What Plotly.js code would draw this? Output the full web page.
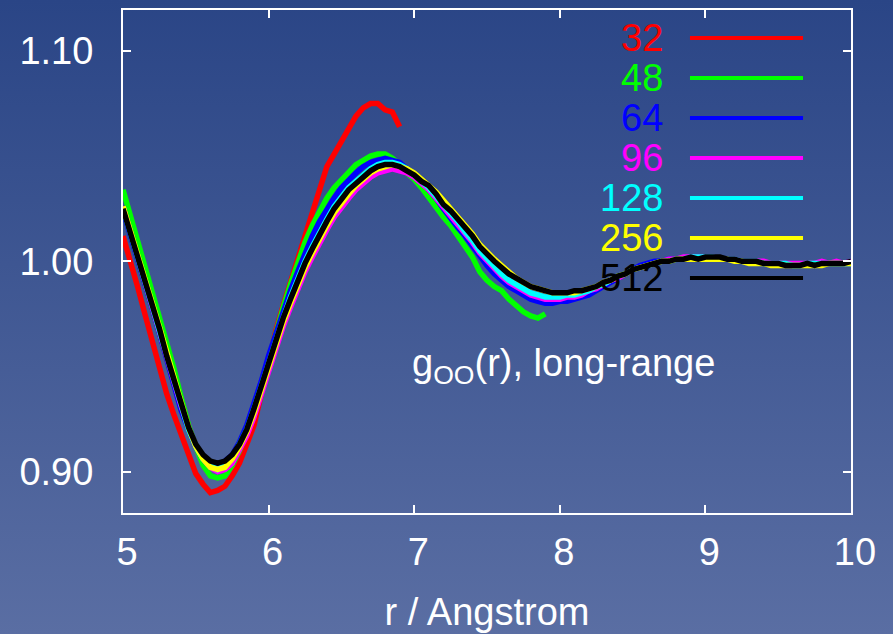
<!DOCTYPE html>
<html>
<head>
<meta charset="utf-8">
<script src="https://cdn.plot.ly/plotly-3.0.1.min.js"></script>
<style>
html, body { margin: 0; padding: 0; }
body { width: 893px; height: 634px; background: linear-gradient(to bottom, #2a4586 0%, #5a6ea3 100%); overflow: hidden; }
#chart { width: 893px; height: 634px; }
</style>
</head>
<body>
<div id="chart"></div>
<script>
// r grid (Angstrom)
const r = [5.00,5.05,5.10,5.15,5.20,5.25,5.30,5.35,5.40,5.45,5.50,5.55,5.60,5.65,5.70,5.75,5.80,5.85,5.90,5.95,
6.00,6.05,6.10,6.15,6.20,6.25,6.30,6.35,6.40,6.45,6.50,6.55,6.60,6.65,6.70,6.75,6.80,6.85,6.90,6.95,
7.00,7.05,7.10,7.15,7.20,7.25,7.30,7.35,7.40,7.45,7.50,7.55,7.60,7.65,7.70,7.75,7.80,7.85,7.90,7.95,
8.00,8.05,8.10,8.15,8.20,8.25,8.30,8.35,8.40,8.45,8.50,8.55,8.60,8.65,8.70,8.75,8.80,8.85,8.90,8.95,
9.00,9.05,9.10,9.15,9.20,9.25,9.30,9.35,9.40,9.45,9.50,9.55,9.60,9.65,9.70,9.75,9.80,9.85,9.90,9.95,10.00];

const labels = ["32","48","64","96","128","256","512"];
const colors = ["#ff0000","#00ff00","#0000ff","#ff00ff","#00ffff","#ffff00","#000000"];

const g32 = [1.012,1.001,0.988,0.975,0.962,0.949,0.937,0.927,0.918,0.908,0.899,0.894,0.890,0.891,0.893,0.898,0.904,0.913,0.922,0.937,
0.953,0.967,0.979,0.990,1.001,1.013,1.025,1.036,1.045,1.051,1.057,1.063,1.069,1.073,1.075,1.075,1.072,1.071,1.064];

const g48 = [1.034,1.022,1.010,0.999,0.987,0.975,0.962,0.949,0.935,0.922,0.912,0.903,0.898,0.897,0.898,0.903,0.910,0.919,0.929,0.941,
0.954,0.966,0.978,0.989,0.999,1.009,1.017,1.024,1.030,1.035,1.039,1.043,1.046,1.048,1.050,1.051,1.051,1.049,1.046,1.042,
1.039,1.035,1.030,1.025,1.021,1.017,1.012,1.008,1.002,0.995,0.991,0.988,0.986,0.982,0.979,0.976,0.974,0.973,0.975];

const g64 = [1.024,1.013,1.002,0.990,0.978,0.966,0.953,0.941,0.929,0.920,0.912,0.907,0.904,0.903,0.905,0.908,0.914,0.922,0.932,0.943,
0.955,0.966,0.976,0.986,0.995,1.004,1.012,1.019,1.025,1.030,1.035,1.039,1.042,1.045,1.047,1.048,1.049,1.048,1.047,1.044,
1.041,1.038,1.034,1.030,1.025,1.021,1.016,1.012,1.007,1.002,0.998,0.994,0.991,0.988,0.986,0.984,0.982,0.981,0.980,0.980,
0.981,0.981,0.982,0.983,0.984,0.986,0.988,0.990,0.992,0.994,0.996,0.998,0.999,1.000,1.000,1.001,1.001];

const g96 = [1.026,1.014,1.003,0.992,0.980,0.968,0.955,0.943,0.931,0.921,0.912,0.906,0.902,0.900,0.901,0.904,0.910,0.917,0.926,0.937,
0.948,0.959,0.969,0.978,0.987,0.995,1.002,1.009,1.015,1.021,1.026,1.030,1.034,1.037,1.040,1.042,1.043,1.044,1.043,1.042,
1.040,1.037,1.034,1.030,1.026,1.022,1.018,1.013,1.009,1.004,1.000,0.996,0.993,0.990,0.988,0.986,0.984,0.983,0.982,0.982,
0.982,0.983,0.983,0.984,0.986,0.987,0.989,0.991,0.992,0.994,0.996,0.997,0.998,0.999,1.000,1.001,1.001,1.002,1.002,1.002,
1.002,1.002,1.001,1.001,1.001,1.000,1.000,1.000,1.000,0.999,0.999,0.999,0.999,0.999,0.999,0.999,1.000,0.999,1.000,0.999,1.000];

const g128 = [1.025,1.014,1.003,0.991,0.979,0.967,0.955,0.942,0.930,0.920,0.912,0.906,0.903,0.901,0.903,0.907,0.913,0.920,0.930,0.941,
0.953,0.963,0.973,0.983,0.992,1.000,1.007,1.014,1.020,1.026,1.031,1.035,1.038,1.041,1.044,1.046,1.047,1.047,1.046,1.044,
1.041,1.038,1.035,1.031,1.027,1.023,1.019,1.014,1.010,1.005,1.001,0.998,0.994,0.991,0.989,0.987,0.985,0.984,0.983,0.983,
0.983,0.984,0.984,0.985,0.986,0.988,0.989,0.991,0.993,0.994,0.996,0.997,0.998,0.999,1.000,1.000,1.001,1.001,1.002,1.002,
1.002,1.002,1.001,1.001,1.001,1.000,1.000,1.000,0.999,0.999,0.999,0.999,0.998,0.998,0.999,0.999,0.999,0.999,0.999,0.999,0.999];

const g256 = [1.026,1.015,1.004,0.993,0.981,0.969,0.957,0.945,0.932,0.921,0.912,0.906,0.902,0.901,0.902,0.906,0.912,0.919,0.928,0.939,
0.950,0.961,0.971,0.980,0.989,0.997,1.004,1.011,1.017,1.023,1.028,1.032,1.036,1.039,1.042,1.044,1.045,1.046,1.045,1.044,
1.042,1.039,1.036,1.033,1.029,1.025,1.021,1.017,1.013,1.008,1.004,1.001,0.998,0.995,0.992,0.990,0.988,0.987,0.986,0.985,
0.985,0.985,0.985,0.986,0.987,0.988,0.990,0.991,0.993,0.994,0.996,0.997,0.998,0.999,1.000,1.000,1.001,1.001,1.001,1.001,
1.001,1.001,1.001,1.001,1.000,1.000,0.999,0.999,0.999,0.998,0.998,0.998,0.998,0.998,0.998,0.998,0.998,0.999,0.999,0.999,0.999];

const g512 = [1.025,1.014,1.003,0.992,0.980,0.968,0.955,0.943,0.931,0.921,0.913,0.908,0.905,0.904,0.905,0.908,0.913,0.920,0.930,0.941,
0.953,0.963,0.973,0.982,0.991,0.999,1.006,1.013,1.019,1.025,1.030,1.034,1.037,1.040,1.043,1.045,1.046,1.046,1.045,1.043,
1.041,1.038,1.036,1.032,1.027,1.024,1.020,1.016,1.012,1.007,1.003,1.000,0.997,0.994,0.992,0.990,0.988,0.987,0.986,0.985,
0.985,0.985,0.986,0.986,0.987,0.988,0.990,0.991,0.993,0.994,0.996,0.997,0.998,0.999,1.000,1.000,1.001,1.001,1.002,1.001,
1.002,1.002,1.002,1.001,1.001,1.000,1.000,1.000,0.999,0.999,0.999,0.998,0.998,0.998,0.999,0.998,0.999,0.999,0.999,0.999,1.000];

const series = [g32, g48, g64, g96, g128, g256, g512];

const xTicks = [5, 6, 7, 8, 9, 10];
const yTicks = [0.90, 1.00, 1.10];
const yTickText = ["0.90", "1.00", "1.10"];

const FONT = '"Liberation Sans", Arial, Helvetica, sans-serif';

const traces = series.map((g, i) => ({
  x: r.slice(0, g.length),
  y: g,
  type: 'scatter',
  mode: 'lines',
  name: labels[i],
  line: { color: colors[i], width: 5.5 },
  showlegend: false,
  hoverinfo: 'skip'
}));

// custom legend (text left, line sample right) in paper coordinates
const annotations = [];
const shapes = [];
const legTop = 0.9443, legStep = 0.0795;
labels.forEach((lab, i) => {
  const yy = legTop - i * legStep;
  annotations.push({
    xref: 'paper', yref: 'paper', x: 0.7445, y: yy,
    xanchor: 'right', yanchor: 'middle', showarrow: false,
    text: lab, font: { family: FONT, size: 38, color: colors[i] }
  });
  shapes.push({
    type: 'line', xref: 'paper', yref: 'paper',
    x0: 0.7788, x1: 0.9341, y0: yy, y1: yy,
    line: { color: colors[i], width: 4 }
  });
});

annotations.push({
  xref: 'paper', yref: 'paper', x: 0.394, y: 0.292,
  xanchor: 'left', yanchor: 'middle', showarrow: false,
  text: 'g<sub>OO</sub>(r), long-range',
  font: { family: FONT, size: 38, color: '#ffffff' }
});

const axisCommon = {
  showline: true, linecolor: '#ffffff', linewidth: 2, mirror: 'ticks',
  ticks: 'inside', ticklen: 8, tickwidth: 2, tickcolor: '#ffffff',
  showgrid: false, zeroline: false,
  tickfont: { family: FONT, size: 38, color: '#ffffff' }
};

const layout = {
  width: 893, height: 634,
  margin: { l: 123, r: 42, t: 10, b: 121 },
  paper_bgcolor: 'rgba(0,0,0,0)',
  plot_bgcolor: 'rgba(0,0,0,0)',
  font: { family: FONT, color: '#ffffff' },
  xaxis: Object.assign({}, axisCommon, {
    range: [5, 10], tickmode: 'array', tickvals: xTicks, ticktext: xTicks.map(String),
    ticklabelstandoff: 4, ticklabelshift: 4,
    title: { text: 'r / Angstrom', font: { family: FONT, size: 38, color: '#ffffff' }, standoff: 27 }
  }),
  yaxis: Object.assign({}, axisCommon, {
    range: [0.8803, 1.1195], tickmode: 'array', tickvals: yTicks, ticktext: yTickText,
    ticklabelstandoff: 20
  }),
  shapes: shapes,
  annotations: annotations,
  showlegend: false
};

Plotly.newPlot('chart', traces, layout, { displayModeBar: false, staticPlot: true });
</script>
</body>
</html>
